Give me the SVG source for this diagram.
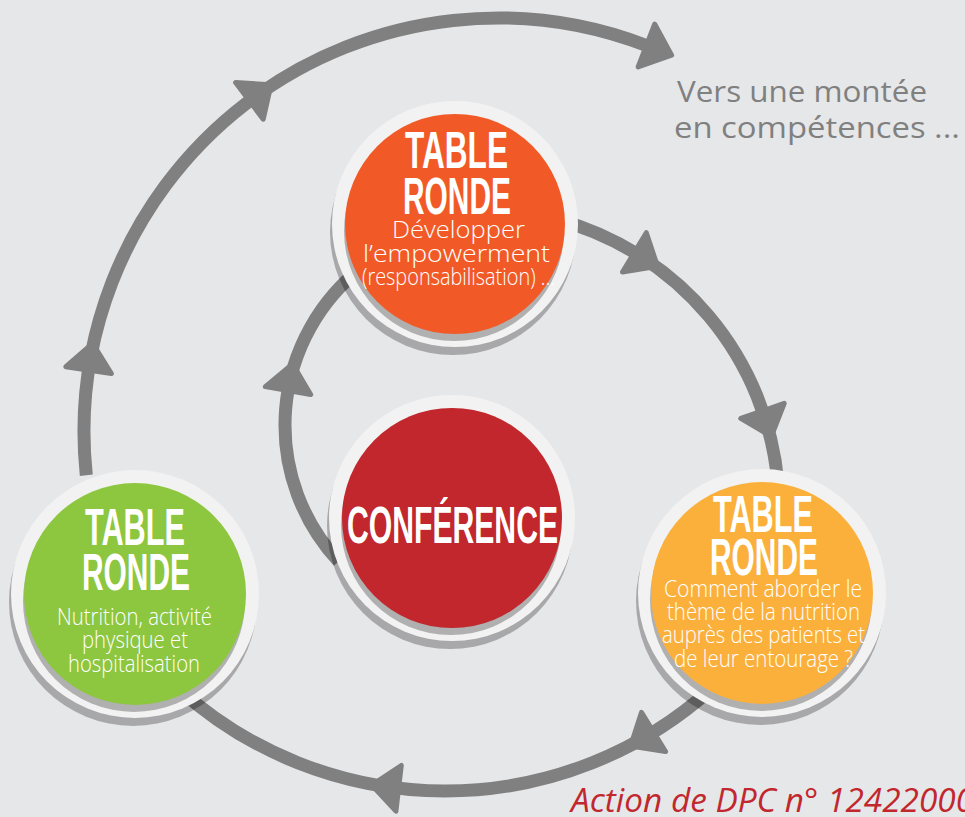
<svg xmlns="http://www.w3.org/2000/svg" xmlns:xlink="http://www.w3.org/1999/xlink" width="965" height="817" viewBox="0 0 965 817">
<style>
.bg{fill:#e6e7e9}
.line{fill:none;stroke:#808080;stroke-width:13}
.ah{fill:#808080;stroke:#808080;stroke-width:5;stroke-linejoin:round}
.shadow{fill:#000;opacity:.27}
.ring{fill:#f2f2f2}
.title{font-family:"Liberation Sans",Arial,sans-serif;font-weight:bold;fill:#fff;font-size:52px}
.sub{font-family:"Open Sans","Liberation Sans",sans-serif;font-weight:300;fill:#fff;font-size:23px}
.side{font-family:"Open Sans","Liberation Sans",sans-serif;fill:#808080;font-size:30px}
.action{font-family:"Open Sans","Liberation Sans",sans-serif;font-style:italic;fill:#c1272d;font-size:32px}
</style>
<defs>
<path id="ah" class="ah" d="M0,-23 L27,0 L0,23 Z"/>
</defs>
<rect class="bg" x="0" y="0" width="965" height="817"/>
<g id="connectors">
<path class="line" d="M 86.3 475.3 A 414 414 0 0 1 646.4 45.5"/>
<path class="line" d="M 556.6 219.2 A 300 300 0 0 1 777.9 482.9"/>
<path class="line" d="M 711.3 688.8 A 398 398 0 0 1 178.7 688.8"/>
<path class="line" d="M 338.7 561.4 A 200 200 0 0 1 361.9 267.4"/>
<use xlink:href="#ah" href="#ah" transform="translate(88.6,370.1) rotate(-81.4)"/>
<use xlink:href="#ah" href="#ah" transform="translate(249.4,100.9) rotate(-36.9)"/>
<use xlink:href="#ah" href="#ah" transform="translate(646.4,45.5) rotate(21)"/>
<use xlink:href="#ah" href="#ah" transform="translate(634.4,252.4) rotate(31.2)"/>
<use xlink:href="#ah" href="#ah" transform="translate(762.5,410.9) rotate(70.9)"/>
<use xlink:href="#ah" href="#ah" transform="translate(653.5,732) rotate(148.4)"/>
<use xlink:href="#ah" href="#ah" transform="translate(398.6,788.3) rotate(186.7)"/>
<use xlink:href="#ah" href="#ah" transform="translate(288,390.6) rotate(-80.1)"/>
</g>
<g id="node-top">
<circle class="shadow" cx="453" cy="232" r="123"/>
<circle class="ring" cx="455" cy="224" r="123"/>
<circle class="shadow" cx="454" cy="231" r="110"/>
<circle fill="#f15a27" cx="455" cy="224" r="110"/>
<text class="title" x="405" y="168" textLength="103" lengthAdjust="spacingAndGlyphs">TABLE</text>
<text class="title" x="403" y="214" textLength="108" lengthAdjust="spacingAndGlyphs">RONDE</text>
<text class="sub" x="392" y="238" font-size="22" textLength="133" lengthAdjust="spacingAndGlyphs">Développer</text>
<text class="sub" x="363" y="262" font-size="22" textLength="187" lengthAdjust="spacingAndGlyphs">l’empowerment</text>
<text class="sub" x="362" y="285" textLength="193" lengthAdjust="spacingAndGlyphs">(responsabilisation) ...</text>
</g>
<g id="node-center">
<circle class="shadow" cx="450" cy="526" r="123"/>
<circle class="ring" cx="452" cy="518" r="123"/>
<circle class="shadow" cx="451" cy="525" r="110"/>
<circle fill="#c1272d" cx="452" cy="518" r="110"/>
<text class="title" x="347" y="543" font-size="50" textLength="211" lengthAdjust="spacingAndGlyphs">CONFÉRENCE</text>
</g>
<g id="node-left">
<circle class="shadow" cx="133" cy="602" r="124"/>
<circle class="ring" cx="135" cy="594" r="124"/>
<circle class="shadow" cx="134" cy="601" r="111"/>
<circle fill="#8dc63f" cx="135" cy="594" r="111"/>
<text class="title" x="85" y="545" textLength="100" lengthAdjust="spacingAndGlyphs">TABLE</text>
<text class="title" x="82" y="590" textLength="108" lengthAdjust="spacingAndGlyphs">RONDE</text>
<text class="sub" x="57" y="625" textLength="155" lengthAdjust="spacingAndGlyphs">Nutrition, activité</text>
<text class="sub" x="82" y="648" textLength="106" lengthAdjust="spacingAndGlyphs">physique et</text>
<text class="sub" x="68" y="672" textLength="132" lengthAdjust="spacingAndGlyphs">hospitalisation</text>
</g>
<g id="node-right">
<circle class="shadow" cx="760" cy="601" r="124"/>
<circle class="ring" cx="762" cy="593" r="124"/>
<circle class="shadow" cx="761" cy="600" r="111"/>
<circle fill="#fbb03b" cx="762" cy="593" r="111"/>
<text class="title" x="713" y="532" textLength="100" lengthAdjust="spacingAndGlyphs">TABLE</text>
<text class="title" x="710" y="575" textLength="108" lengthAdjust="spacingAndGlyphs">RONDE</text>
<text class="sub" x="664" y="597" textLength="198" lengthAdjust="spacingAndGlyphs">Comment aborder le</text>
<text class="sub" x="667" y="620" textLength="193" lengthAdjust="spacingAndGlyphs">thème de la nutrition</text>
<text class="sub" x="662" y="643" textLength="203" lengthAdjust="spacingAndGlyphs">auprès des patients et</text>
<text class="sub" x="674" y="667" textLength="179" lengthAdjust="spacingAndGlyphs">de leur entourage ?</text>
</g>
<g id="labels">
<text class="side" x="677" y="102" textLength="250" lengthAdjust="spacingAndGlyphs">Vers une montée</text>
<text class="side" x="674" y="138" textLength="286" lengthAdjust="spacingAndGlyphs">en compétences ...</text>
<text class="action" x="571" y="812" textLength="403" lengthAdjust="spacingAndGlyphs">Action de DPC n° 12422000</text>
</g>
</svg>
